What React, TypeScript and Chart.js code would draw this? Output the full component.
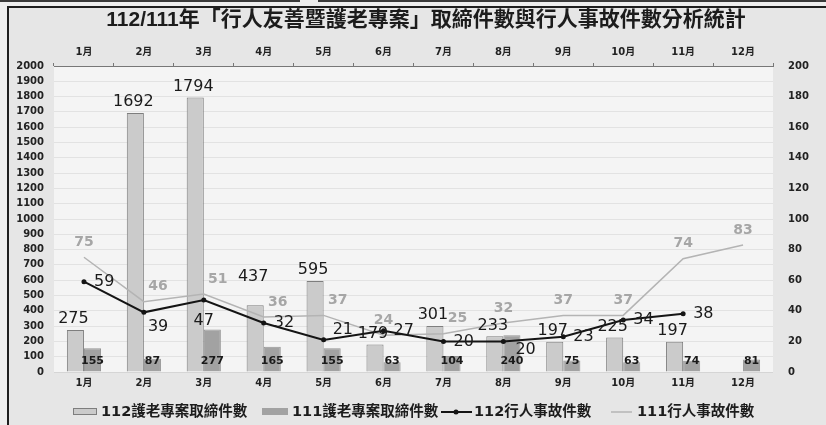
import { useEffect, useRef } from 'react';
import { Chart, registerables } from 'chart.js';

Chart.register(...registerables);

// ---- data ----
const months = ['1月', '2月', '3月', '4月', '5月', '6月', '7月', '8月', '9月', '10月', '11月', '12月'];
const enforce112: (number | null)[] = [275, 1692, 1794, 437, 595, 179, 301, 233, 197, 225, 197, null];
const enforce111: (number | null)[] = [155, 87, 277, 165, 155, 63, 104, 240, 75, 63, 74, 81];
const accident112: (number | null)[] = [59, 39, 47, 32, 21, 27, 20, 20, 23, 34, 38, null];
const accident111: (number | null)[] = [75, 46, 51, 36, 37, 24, 25, 32, 37, 37, 74, 83];
const leftAxis = { min: 0, max: 2000, step: 100 };
const rightAxis = { min: 0, max: 200, step: 20 };
const titleText = '112/111年「行人友善暨護老專案」取締件數與行人事故件數分析統計';
const seriesNames = ['112護老專案取締件數', '111護老專案取締件數', '112行人事故件數', '111行人事故件數'];

// label placement styles (not data)
const acc112Place = ['right', 'belowRight', 'below', 'right', 'aboveRight', 'right', 'right', 'lowRight', 'right', 'right', 'right', 'right'];
const acc111Place = ['above', 'aboveRight', 'aboveRight', 'aboveRight', 'aboveRight', 'above', 'aboveRight', 'above', 'above', 'above', 'above', 'above'];
const bar112Place = ['top', 'top', 'top', 'raised', 'top', 'top', 'top', 'top', 'top', 'top', 'top', 'top'];

const NUM_FONT = '"DejaVu Sans", "Noto Sans CJK TC", sans-serif';
const LIGHT_BAR = '#cbcbcb';
const LIGHT_BAR_BORDER = '#7e7e7e';
const DARK_BAR = '#a2a2a2';
const BLACK_LINE = '#141414';
const GRAY_LINE = '#b4b4b4';

const bgPlugin = {
  id: 'bgPlugin',
  beforeDraw(chart: any) {
    const { ctx, width, height, chartArea: a } = chart;
    ctx.save();
    ctx.fillStyle = '#eeeeee';
    ctx.fillRect(0, 0, width, height);
    ctx.fillStyle = '#e6e6e6';
    ctx.fillRect(8, 8, width - 8, height - 8);
    ctx.fillStyle = '#f4f4f4';
    ctx.fillRect(a.left, a.top, a.right - a.left, a.bottom - a.top);
    // frame
    ctx.strokeStyle = '#1e1e1e';
    ctx.lineWidth = 2;
    ctx.beginPath();
    ctx.moveTo(8, height);
    ctx.lineTo(8, 7);
    ctx.lineTo(width, 7);
    ctx.stroke();
    ctx.strokeStyle = '#3a3a3a';
    ctx.beginPath();
    ctx.moveTo(0, 1);
    ctx.lineTo(300, 1);
    ctx.moveTo(318, 1);
    ctx.lineTo(width, 1);
    ctx.stroke();
    ctx.restore();
  },
};

const labelPlugin = {
  id: 'labelPlugin',
  afterDatasetsDraw(chart: any) {
    const ctx = chart.ctx;
    ctx.save();
    // 112 bar labels
    const m0 = chart.getDatasetMeta(0);
    ctx.font = `16px ${NUM_FONT}`;
    ctx.fillStyle = '#1a1a1a';
    ctx.textAlign = 'center';
    ctx.textBaseline = 'bottom';
    m0.data.forEach((el: any, i: number) => {
      const v = enforce112[i];
      if (v == null) return;
      const lift = bar112Place[i] === 'raised' ? 20 : 3;
      ctx.fillText(String(v), el.x - 2, el.y - lift);
    });
    // 111 bar labels (inside bottom)
    const m1 = chart.getDatasetMeta(1);
    ctx.font = `bold 11px ${NUM_FONT}`;
    ctx.fillStyle = '#1a1a1a';
    m1.data.forEach((el: any, i: number) => {
      const v = enforce111[i];
      if (v == null) return;
      ctx.fillText(String(v), el.x, el.base - 5);
    });
    // 112 line labels
    const m2 = chart.getDatasetMeta(2);
    ctx.font = `16px ${NUM_FONT}`;
    ctx.fillStyle = '#1a1a1a';
    ctx.textBaseline = 'middle';
    m2.data.forEach((el: any, i: number) => {
      const v = accident112[i];
      if (v == null) return;
      const p = acc112Place[i];
      if (p === 'below') {
        ctx.textAlign = 'center';
        ctx.fillText(String(v), el.x, el.y + 21);
      } else if (p === 'belowRight') {
        ctx.textAlign = 'left';
        ctx.fillText(String(v), el.x + 4, el.y + 15);
      } else if (p === 'aboveRight') {
        ctx.textAlign = 'left';
        ctx.fillText(String(v), el.x + 9, el.y - 10);
      } else if (p === 'lowRight') {
        ctx.textAlign = 'left';
        ctx.fillText(String(v), el.x + 12, el.y + 8);
      } else {
        ctx.textAlign = 'left';
        ctx.fillText(String(v), el.x + 10, el.y);
      }
    });
    // 111 line labels
    const m3 = chart.getDatasetMeta(3);
    ctx.font = `bold 14px ${NUM_FONT}`;
    ctx.fillStyle = '#a6a6a6';
    ctx.textAlign = 'center';
    m3.data.forEach((el: any, i: number) => {
      const v = accident111[i];
      if (v == null) return;
      const dx = acc111Place[i] === 'aboveRight' ? 14 : 0;
      ctx.fillText(String(v), el.x + dx, el.y - 15);
    });
    ctx.restore();
  },
};

const titleLegendPlugin = {
  id: 'titleLegendPlugin',
  afterDraw(chart: any) {
    const ctx = chart.ctx;
    ctx.save();
    // title
    ctx.font = `bold 21px "Liberation Sans", "Noto Sans CJK TC", sans-serif`;
    ctx.fillStyle = '#1c1c1c';
    ctx.textAlign = 'center';
    ctx.textBaseline = 'middle';
    ctx.fillText(titleText, 426, 20);

    // legend
    const ly = 412;
    ctx.font = `bold 14.5px ${NUM_FONT}`;
    ctx.textAlign = 'left';
    ctx.fillStyle = '#1c1c1c';
    // item 1
    ctx.fillStyle = LIGHT_BAR;
    ctx.fillRect(73, ly - 4, 24, 7);
    ctx.strokeStyle = LIGHT_BAR_BORDER;
    ctx.lineWidth = 1;
    ctx.strokeRect(73.5, ly - 3.5, 23, 6);
    ctx.fillStyle = '#1c1c1c';
    ctx.fillText(seriesNames[0], 101, ly);
    // item 2
    ctx.fillStyle = DARK_BAR;
    ctx.fillRect(262, ly - 4, 26, 7);
    ctx.fillStyle = '#1c1c1c';
    ctx.fillText(seriesNames[1], 292, ly);
    // item 3
    ctx.strokeStyle = BLACK_LINE;
    ctx.lineWidth = 2;
    ctx.beginPath();
    ctx.moveTo(441, ly);
    ctx.lineTo(472, ly);
    ctx.stroke();
    ctx.fillStyle = BLACK_LINE;
    ctx.beginPath();
    ctx.arc(456, ly, 2.5, 0, Math.PI * 2);
    ctx.fill();
    ctx.fillStyle = '#1c1c1c';
    ctx.fillText(seriesNames[2], 474, ly);
    // item 4
    ctx.strokeStyle = GRAY_LINE;
    ctx.lineWidth = 1.5;
    ctx.beginPath();
    ctx.moveTo(611, ly);
    ctx.lineTo(632, ly);
    ctx.stroke();
    ctx.fillStyle = '#1c1c1c';
    ctx.fillText(seriesNames[3], 637, ly);
    ctx.restore();
  },
};

export default function App() {
  const ref = useRef<HTMLCanvasElement>(null);
  useEffect(() => {
    if (!ref.current) return;
    const tickFont = { family: NUM_FONT, size: 10, weight: 'bold' as const };
    const plain = (v: any) => String(v);
    const chart = new Chart(ref.current, {
      type: 'bar',
      data: {
        labels: months,
        datasets: [
          {
            type: 'bar',
            label: seriesNames[0],
            data: enforce112,
            yAxisID: 'y',
            xAxisID: 'x',
            backgroundColor: LIGHT_BAR,
            borderColor: LIGHT_BAR_BORDER,
            borderWidth: 1,
            order: 2,
          },
          {
            type: 'bar',
            label: seriesNames[1],
            data: enforce111,
            yAxisID: 'y',
            xAxisID: 'x',
            backgroundColor: DARK_BAR,
            borderColor: '#959595',
            borderWidth: 1,
            order: 3,
          },
          {
            type: 'line',
            label: seriesNames[2],
            data: accident112,
            yAxisID: 'y2',
            xAxisID: 'x',
            borderColor: BLACK_LINE,
            backgroundColor: BLACK_LINE,
            borderWidth: 2,
            pointRadius: 2.5,
            pointBackgroundColor: BLACK_LINE,
            pointBorderWidth: 0,
            tension: 0,
            spanGaps: false,
            order: 0,
          },
          {
            type: 'line',
            label: seriesNames[3],
            data: accident111,
            yAxisID: 'y2',
            xAxisID: 'x',
            borderColor: GRAY_LINE,
            backgroundColor: GRAY_LINE,
            borderWidth: 1.5,
            pointRadius: 0,
            tension: 0,
            order: 1,
          },
        ] as any,
      },
      options: {
        animation: false,
        responsive: false,
        maintainAspectRatio: false,
        events: [],
        layout: { padding: { top: 36, bottom: 33, left: 0, right: 0 } },
        datasets: {
          bar: { categoryPercentage: 0.57, barPercentage: 1.0 },
        },
        plugins: {
          legend: { display: false },
          title: { display: false },
          tooltip: { enabled: false },
        },
        scales: {
          x: {
            type: 'category',
            position: 'bottom',
            offset: true,
            grid: { display: false, drawTicks: false },
            border: { display: false },
            ticks: { font: tickFont, color: '#222', padding: 5, autoSkip: false, maxRotation: 0 },
            afterFit: (s: any) => { s.height = 20; },
          },
          xTop: {
            type: 'category',
            position: 'top',
            labels: months,
            offset: true,
            grid: { display: true, offset: true, drawOnChartArea: false, tickLength: 3, color: '#777' },
            border: { display: true, color: '#777', width: 1 },
            ticks: { font: tickFont, color: '#222', padding: 5, autoSkip: false, maxRotation: 0 },
            afterFit: (s: any) => { s.height = 30; },
          },
          y: {
            type: 'linear',
            position: 'left',
            min: leftAxis.min,
            max: leftAxis.max,
            grid: { color: 'rgba(0,0,0,0.07)', lineWidth: 1, drawTicks: false },
            border: { display: false },
            ticks: { stepSize: leftAxis.step, maxTicksLimit: 40, autoSkip: false, font: tickFont, color: '#222', padding: 10, callback: plain },
            afterFit: (s: any) => { s.width = 54; },
          },
          y2: {
            type: 'linear',
            position: 'right',
            min: rightAxis.min,
            max: rightAxis.max,
            grid: { drawOnChartArea: false, drawTicks: false },
            border: { display: false },
            ticks: { stepSize: rightAxis.step, autoSkip: false, font: tickFont, color: '#222', padding: 15, callback: plain },
            afterFit: (s: any) => { s.width = 53; },
          },
        },
      } as any,
      plugins: [bgPlugin, labelPlugin, titleLegendPlugin],
    });
    return () => chart.destroy();
  }, []);
  return (
    <div style={{ position: 'absolute', left: 0, top: 0, width: 826, height: 425 }}>
      <canvas ref={ref} width={826} height={425} style={{ display: 'block', width: 826, height: 425 }} />
    </div>
  );
}
